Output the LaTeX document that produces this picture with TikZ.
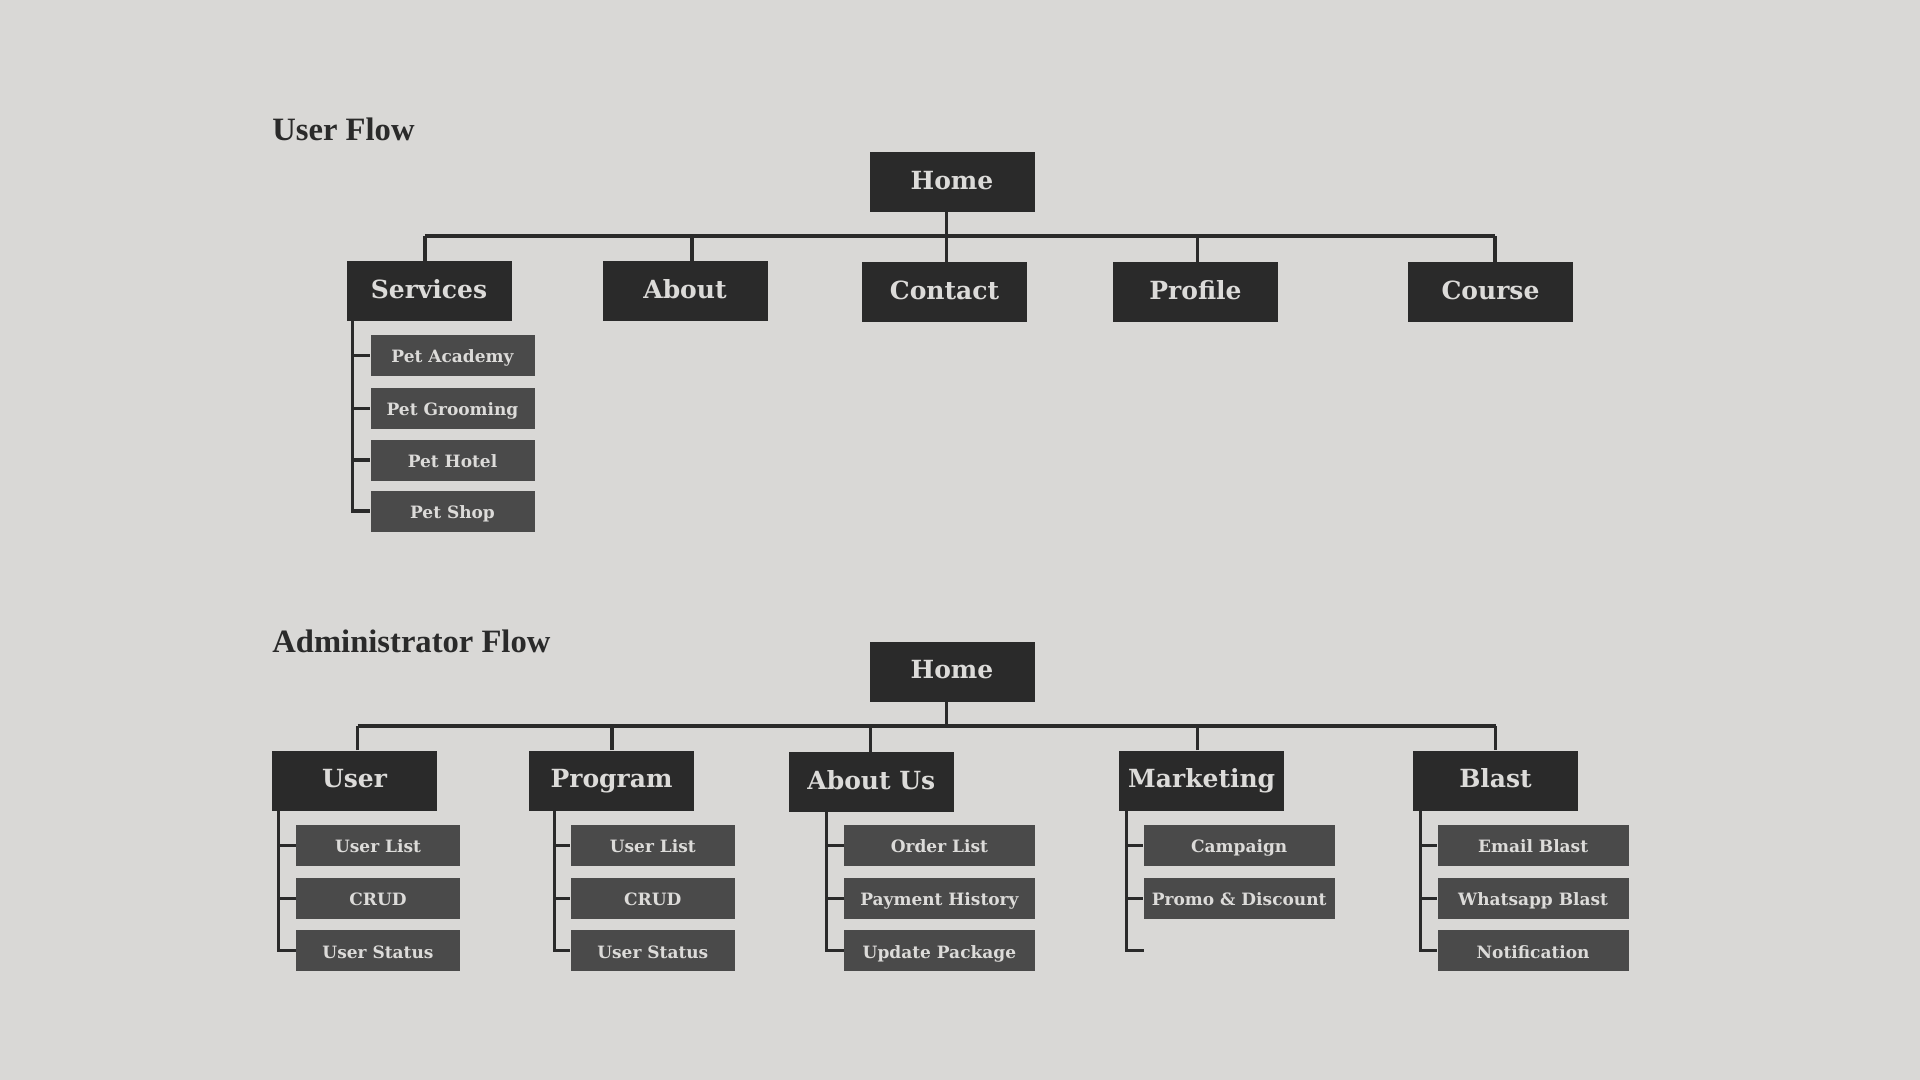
\documentclass[tikz,border=0pt]{standalone}
\usepackage{fontspec}
\setmainfont{DejaVu Serif}
\newfontfamily\titlefont{Liberation Serif}
\definecolor{bg}{HTML}{D9D8D6}
\definecolor{dark}{HTML}{2A2A2A}
\definecolor{mid}{HTML}{4A4A4A}
\definecolor{light}{HTML}{DCDBD9}
\begin{document}
\begin{tikzpicture}[x=0.5pt,y=-0.5pt,
  mainbox/.style={fill=dark,text=light,minimum width=82.5pt,minimum height=30pt,inner sep=0pt,text height=0.73em,text depth=0pt,font=\fontsize{12.5}{14}\selectfont\bfseries},
  subbox/.style={fill=mid,text=light,minimum width=82pt,minimum height=20.5pt,inner sep=0pt,text height=0.73em,text depth=0pt,font=\fontsize{8.5}{10}\selectfont\bfseries},
  widesub/.style={subbox,minimum width=95.5pt},
  titletext/.style={text=dark,anchor=base west,inner sep=0pt,font=\titlefont\fontsize{16.3}{19}\selectfont\bfseries},
  link/.style={draw=dark,line width=1.6pt}]
\fill[bg] (0,0) rectangle (1920,1080);
\useasboundingbox (0,0) rectangle (1920,1080);

% ---------- User Flow ----------
\node[titletext] (t1) at (272,141) {User Flow};
\node[mainbox] (uhome) at (952,182) {Home};
\node[mainbox] (serv) at (429,291) {Services};
\node[mainbox] (uabout) at (685,291) {About};
\node[mainbox] (contact) at (944.5,292) {Contact};
\node[mainbox] (profile) at (1195.5,292) {Profile};
\node[mainbox] (course) at (1490.5,292) {Course};
\coordinate (ub) at (0,236);

\node[subbox] (pa) at (452.5,355.7) {Pet Academy};
\node[subbox] (pg) at (452.5,408.2) {Pet Grooming};
\node[subbox] (ph) at (452.5,460) {Pet Hotel};
\node[subbox] (ps) at (452.5,511) {Pet Shop};

\draw[link] ([xshift=-2.75pt]uhome.south) -- ([xshift=-2.75pt]uhome.south |- ub);
\draw[link] ([xshift=-2pt]serv.north |- ub) -- ([xshift=2.25pt]course.north |- ub);
\draw[link] ([xshift=-2pt]serv.north) -- ([xshift=-2pt]serv.north |- ub);
\draw[link] ([xshift=3.5pt]uabout.north) -- ([xshift=3.5pt]uabout.north |- ub);
\draw[link] ([xshift=1pt]contact.north) -- ([xshift=1pt]contact.north |- ub);
\draw[link] ([xshift=1pt]profile.north) -- ([xshift=1pt]profile.north |- ub);
\draw[link] ([xshift=2.25pt]course.north) -- ([xshift=2.25pt]course.north |- ub);

\coordinate (sv) at ([xshift=3.1pt]serv.south west);
\draw[link] (sv) -- (sv |- ps.west) -- (ps.west);
\foreach \n in {pa,pg,ph} \draw[link] (sv |- \n.west) -- (\n.west);

% ---------- Administrator Flow ----------
\node[titletext] (t2) at (272,652) {Administrator Flow};
\node[mainbox] (ahome) at (952,671.6) {Home};
\node[mainbox] (user) at (354.5,780.6) {User};
\node[mainbox] (prog) at (611.5,780.6) {Program};
\node[mainbox] (aboutus) at (871.3,782) {About Us};
\node[mainbox] (mkt) at (1201.7,780.6) {Marketing};
\node[mainbox] (blast) at (1495.5,780.6) {Blast};
\coordinate (ab) at (0,726);

\draw[link] ([xshift=-2.75pt]ahome.south) -- ([xshift=-2.75pt]ahome.south |- ab);
\draw[link] ([xshift=1.5pt]user.north |- ab) -- (blast.north |- ab);
\draw[link] ([xshift=1.5pt]user.north) -- ([xshift=1.5pt]user.north |- ab);
\draw[link] ([xshift=0.25pt]prog.north) -- ([xshift=0.25pt]prog.north |- ab);
\draw[link] ([xshift=-0.35pt]aboutus.north) -- ([xshift=-0.35pt]aboutus.north |- ab);
\draw[link] ([xshift=-2pt]mkt.north) -- ([xshift=-2pt]mkt.north |- ab);
\draw[link] (blast.north) -- (blast.north |- ab);

% User children
\node[subbox] (u1) at (378,845.6) {User List};
\node[subbox] (u2) at (378,898.2) {CRUD};
\node[subbox] (u3) at (378,950.8) {User Status};
\coordinate (uv) at ([xshift=3.5pt]user.south west);
\draw[link] (uv) -- (uv |- u3.west) -- (u3.west);
\foreach \n in {u1,u2} \draw[link] (uv |- \n.west) -- (\n.west);

% Program children
\node[subbox] (p1) at (652.8,845.6) {User List};
\node[subbox] (p2) at (652.8,898.2) {CRUD};
\node[subbox] (p3) at (652.8,950.8) {User Status};
\coordinate (pv) at ([xshift=13pt]prog.south west);
\draw[link] (pv) -- (pv |- p3.west) -- (p3.west);
\foreach \n in {p1,p2} \draw[link] (pv |- \n.west) -- (\n.west);

% About Us children
\node[widesub] (a1) at (939.4,845.6) {Order List};
\node[widesub] (a2) at (939.4,898.2) {Payment History};
\node[widesub] (a3) at (939.4,950.8) {Update Package};
\coordinate (av) at ([xshift=19pt]aboutus.south west);
\draw[link] (av) -- (av |- a3.west) -- (a3.west);
\foreach \n in {a1,a2} \draw[link] (av |- \n.west) -- (\n.west);

% Marketing children
\node[widesub] (m1) at (1239.2,845.6) {Campaign};
\node[widesub] (m2) at (1239.2,898.2) {Promo \& Discount};
\coordinate (m3) at (1143.7,950.3);
\coordinate (mv) at ([xshift=3.75pt]mkt.south west);
\draw[link] (mv) -- (mv |- m3) -- (m3);
\foreach \n in {m1,m2} \draw[link] (mv |- \n.west) -- (\n.west);

% Blast children
\node[widesub] (b1) at (1533.1,845.6) {Email Blast};
\node[widesub] (b2) at (1533.1,898.2) {Whatsapp Blast};
\node[widesub] (b3) at (1533.1,950.8) {Notification};
\coordinate (bv) at ([xshift=4pt]blast.south west);
\draw[link] (bv) -- (bv |- b3.west) -- (b3.west);
\foreach \n in {b1,b2} \draw[link] (bv |- \n.west) -- (\n.west);
\end{tikzpicture}
\end{document}
